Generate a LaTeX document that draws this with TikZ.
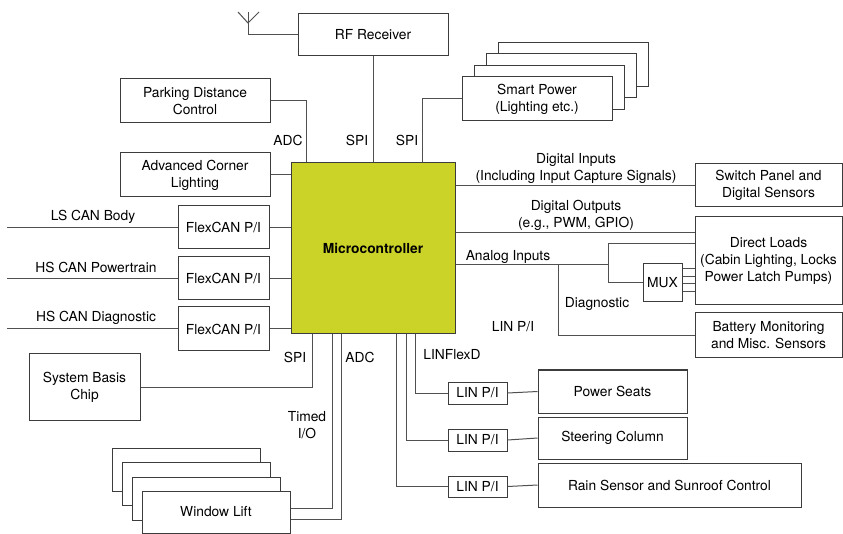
\documentclass[tikz,border=0pt]{standalone}
\usepackage{fontspec}
\setmainfont{TeX Gyre Heros}
\definecolor{mcufill}{RGB}{204,211,40}
\definecolor{linec}{RGB}{80,80,80}
\definecolor{boxc}{RGB}{60,60,60}
\begin{document}
\begin{tikzpicture}[x=1pt,y=-1pt,
  every node/.style={font=\fontsize{13.8}{17}\selectfont, text=black},
  box/.style={draw=boxc, line width=1pt, fill=white, align=center, inner sep=0pt, anchor=center},
  wire/.style={draw=linec, line width=1pt},
  lbl/.style={align=center, inner sep=0pt}]
\useasboundingbox (0,0) rectangle (843,534);

% ---------- boxes ----------
\node[box, minimum width=150pt, minimum height=42pt] (rf) at (373,35) {RF Receiver};
\node[box, minimum width=150pt, minimum height=44pt] (pdc) at (195,101) {Parking Distance\\Control};
\node[box, minimum width=150pt, minimum height=44pt] (acl) at (195,175) {Advanced Corner\\Lighting};
\node[box, fill=mcufill, minimum width=164pt, minimum height=171pt, font=\fontsize{13.8}{17}\selectfont\bfseries] (mcu) at (373,248.5) {Microcontroller};

% smart power stack
\node[box, minimum width=150pt, minimum height=44pt] (sp3) at (573,64.5) {};
\node[box, minimum width=150pt, minimum height=44pt] (sp2) at (561,76) {};
\node[box, minimum width=150pt, minimum height=44pt] (sp1) at (549,87.5) {};
\node[box, minimum width=150pt, minimum height=44pt] (sp0) at (537,99) {Smart Power\\(Lighting etc.)};

\node[box, minimum width=147pt, minimum height=43pt] (sw) at (768.5,185.5) {Switch Panel and\\Digital Sensors};
\node[box, minimum width=147pt, minimum height=88pt] (dl) at (768.5,261) {Direct Loads\\(Cabin Lighting, Locks\\Power Latch Pumps)};
\node[box, minimum width=39pt, minimum height=38pt] (mux) at (662.5,283) {MUX};
\node[box, minimum width=147pt, minimum height=45pt] (bat) at (768.5,335.5) {Battery Monitoring\\and Misc. Sensors};

\node[box, minimum width=91pt, minimum height=43pt] (fc1) at (223.5,227.5) {FlexCAN P/I};
\node[box, minimum width=91pt, minimum height=43pt] (fc2) at (223.5,278.5) {FlexCAN P/I};
\node[box, minimum width=91pt, minimum height=44pt] (fc3) at (223.5,329) {FlexCAN P/I};

\node[box, minimum width=111pt, minimum height=66pt] (sbc) at (84.5,387) {System Basis\\Chip};

% window lift stack
\node[box, minimum width=148pt, minimum height=43pt] (wl3) at (186,469.5) {};
\node[box, minimum width=148pt, minimum height=43pt] (wl2) at (196,484) {};
\node[box, minimum width=148pt, minimum height=43pt] (wl1) at (206,498.5) {};
\node[box, minimum width=148pt, minimum height=42pt] (wl0) at (216,512) {Window Lift};

\node[box, minimum width=59pt, minimum height=22pt] (lin1) at (477.5,393) {LIN P/I};
\node[box, minimum width=59pt, minimum height=22pt] (lin2) at (477.5,440) {LIN P/I};
\node[box, minimum width=59pt, minimum height=21pt] (lin3) at (477.5,486.5) {LIN P/I};
\node[box, minimum width=149pt, minimum height=43pt] (seat) at (612.5,391.5) {Power Seats};
\node[box, minimum width=149pt, minimum height=42pt] (steer) at (612.5,438) {Steering Column};
\node[box, minimum width=263pt, minimum height=44pt] (rain) at (669.5,485) {Rain Sensor and Sunroof Control};

% ---------- helper coordinates ----------
\coordinate (ant) at (248,23);
\coordinate (antL) at (238,12);
\coordinate (antM) at (248,12);
\coordinate (antR) at (259,12);
\coordinate (xadc) at (306,0);
\coordinate (xspi) at (422,0);
\coordinate (yDO) at (0,233);
\coordinate (yAI) at (0,265);
\coordinate (xai) at (608,0);
\coordinate (aiT) at (608,244);
\coordinate (xdg) at (558,0);
\coordinate (dgB) at (558,335.5);
\coordinate (cL1) at (7,227.5);
\coordinate (cL2) at (7,278.5);
\coordinate (cL3) at (7,329);
\coordinate (xsbc) at (312,0);
\coordinate (xtio) at (332,0);
\coordinate (xadc2) at (341,0);
\coordinate (ytio) at (0,508);
\coordinate (yadc2) at (0,519);
\coordinate (xl1) at (415,0);
\coordinate (xl2) at (406,0);
\coordinate (xl3) at (396,0);

% ---------- connectors ----------
\draw[wire] (antL) -- (ant) -- (antR);
\draw[wire] (antM) -- (ant);
\draw[wire] (rf.west) -| (ant);
\draw[wire] (rf.south) -- (rf.south |- mcu.north);
\draw[wire] (pdc.east) -| (xadc |- mcu.north);
\draw[wire] (xspi |- mcu.north) |- (sp0.west);
\draw[wire] (acl.east) -- (acl.east -| mcu.west);

\draw[wire] (cL1) -- (fc1.west);
\draw[wire] (cL2) -- (fc2.west);
\draw[wire] (cL3) -- (fc3.west);
\draw[wire] (fc1.east) -- (fc1.east -| mcu.west);
\draw[wire] (fc2.east) -- (fc2.east -| mcu.west);
\draw[wire] (fc3.east) -- (fc3.east -| mcu.west);

\draw[wire] (sw.west -| mcu.east) -- (sw.west);
\draw[wire] (yDO -| mcu.east) -- (yDO -| dl.west);
\draw[wire] (yAI -| mcu.east) -- (yAI -| xai);
\draw[wire] (mux.west) -| (aiT) -- (aiT -| dl.west);
\foreach \yy in {269,277,284,292}
  \draw[wire] (mux.east |- 0,\yy) -- (dl.west |- 0,\yy);
\draw[wire] (yAI -| xdg) -- (dgB) -- (bat.west);

\draw[wire] (sbc.east) -| (xsbc |- mcu.south);
\draw[wire] (xtio |- mcu.south) |- (ytio -| wl0.east);
\draw[wire] (xadc2 |- mcu.south) |- (yadc2 -| wl0.east);

\draw[wire] (xl1 |- mcu.south) |- (lin1.west);
\draw[wire] (xl2 |- mcu.south) |- (lin2.west);
\draw[wire] (xl3 |- mcu.south) |- (lin3.west);
\draw[wire] (lin1.east) -- (seat.west);
\draw[wire] (lin2.east) -- (steer.west);
\draw[wire] (lin3.east) -- (rain.west);

% ---------- labels ----------
\node[lbl] (lADC) at (288,140) {ADC};
\node[lbl] (lSPI1) at (357,140) {SPI};
\node[lbl] (lSPI2) at (407,140) {SPI};
\node[lbl] (lDI) at (576,168) {Digital Inputs\\(Including Input Capture Signals)};
\node[lbl] (lDO) at (576,215) {Digital Outputs\\(e.g., PWM, GPIO)};
\node[lbl] (lAI) at (508,257) {Analog Inputs};
\node[lbl] (lDG) at (597,304) {Diagnostic};
\node[lbl] (lLIN) at (513,327) {LIN P/I};
\node[lbl] (lLS) at (93,217) {LS CAN Body};
\node[lbl] (lHSP) at (96,267) {HS CAN Powertrain};
\node[lbl] (lHSD) at (96,318) {HS CAN Diagnostic};
\node[lbl] (lSPI3) at (295,357) {SPI};
\node[lbl] (lADC2) at (360,357) {ADC};
\node[lbl] (lLF) at (452,355) {LINFlexD};
\node[lbl] (lTIO) at (307,425) {Timed\\I/O};
\end{tikzpicture}
\end{document}
